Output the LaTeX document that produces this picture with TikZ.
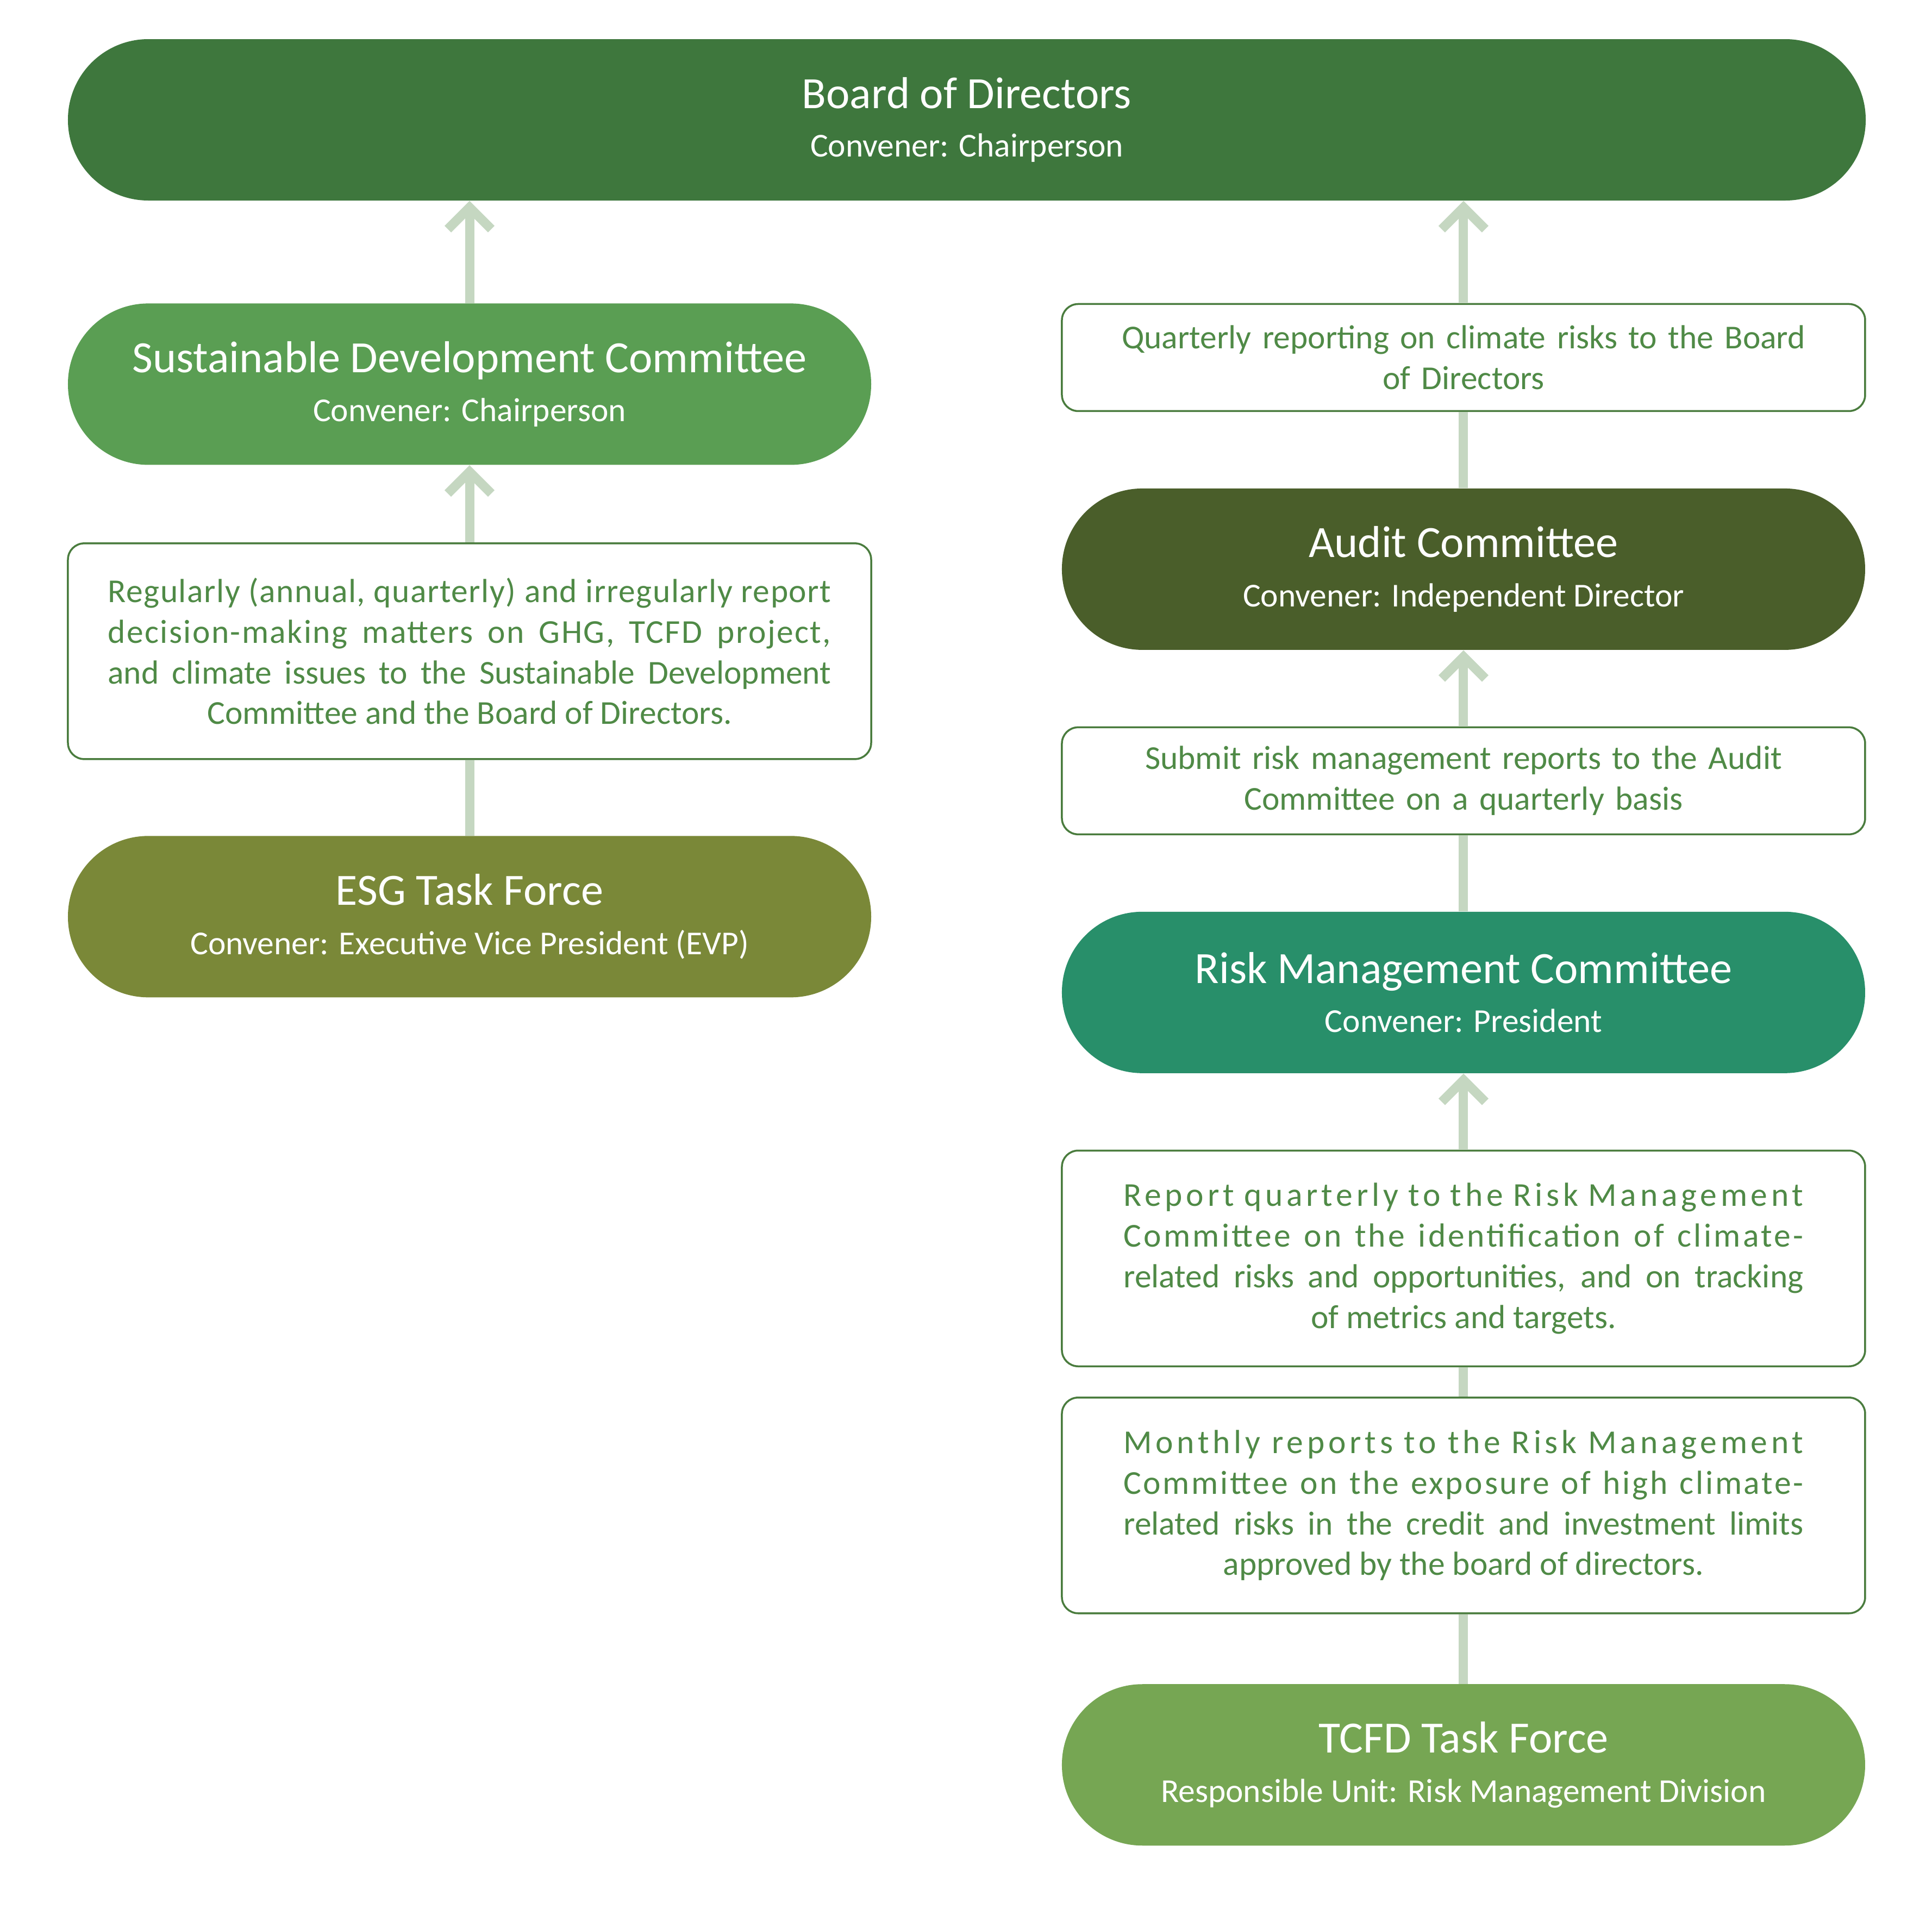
\documentclass[tikz,border=0pt]{standalone}
\usepackage{fontspec}
\setmainfont{Carlito}
\usetikzlibrary{positioning,arrows.meta}
\definecolor{boardgreen}{HTML}{3E773D}
\definecolor{sdcgreen}{HTML}{5A9E53}
\definecolor{esgolive}{HTML}{7A8838}
\definecolor{auditolive}{HTML}{4A5E2A}
\definecolor{rmcteal}{HTML}{288F6A}
\definecolor{tcfdgreen}{HTML}{76A653}
\definecolor{linkgreen}{HTML}{C5D7C1}
\definecolor{noteline}{HTML}{4A7C3E}
\definecolor{notetext}{HTML}{4F8A46}
\newcommand\headsize{\fontsize{23.4}{27}\selectfont}
\newcommand\bodysize{\fontsize{17.5}{21.3}\selectfont}
\newcommand\lastcentred{\leavevmode\leftskip=0pt plus 1fil\rightskip=0pt plus -1fil\parfillskip=0pt plus 2fil\relax}
\newcommand\tracked[2]{{\addfontfeature{LetterSpace=#1}#2}}
\begin{document}
\begin{tikzpicture}
[pill/.style={rounded corners=1.48cm,minimum height=2.97cm,minimum width=14.78cm,text=white,align=center,font=\bodysize},
note/.style={draw=noteline,line width=0.035cm,rounded corners=0.3cm,minimum width=14.78cm,inner xsep=0pt,text=notetext,font=\bodysize},
link/.style={draw=linkgreen,line width=0.17cm},
up/.style={link,-{Straight Barb[length=0.4cm,width=0.8cm,sharp]}}]
\useasboundingbox (0,0) rectangle (35.55,-35.24);
\node[pill,fill=boardgreen,minimum width=33.08cm] (board) at (17.79,-2.205) {{\headsize Board of Directors}\\[4pt]Convener: Chairperson};
\node[pill,fill=sdcgreen,below=1.88cm of board.south west,anchor=north west] (sdc) {{\headsize Sustainable Development Committee}\\[4.5pt]Convener: Chairperson};
\node[note,below=1.42cm of sdc,minimum height=3.97cm,text width=13.31cm,align=justify] (ghgnote) {\lastcentred \tracked{2.5}{Regularly (annual, quarterly) and irregularly report}\linebreak \tracked{4}{decision-making matters on GHG, TCFD project,}\linebreak and climate issues to the Sustainable Development\linebreak Committee and the Board of Directors.\par};
\node[pill,fill=esgolive,below=1.39cm of ghgnote] (esg) {{\headsize ESG Task Force}\\[4.5pt]Convener: Executive Vice President (EVP)};
\node[note,below=1.88cm of board.south east,anchor=north east,minimum height=1.97cm,text width=13.3cm,align=center] (quarter) {Quarterly reporting on climate risks to the Board\\of Directors};
\node[pill,fill=auditolive,below=1.40cm of quarter] (audit) {{\headsize Audit Committee}\\[4.5pt]Convener: Independent Director};
\node[note,below=1.40cm of audit,minimum height=1.97cm,text width=13.3cm,align=center] (submit) {Submit risk management reports to the Audit\\Committee on a quarterly basis};
\node[pill,fill=rmcteal,below=1.40cm of submit] (rmc) {{\headsize Risk Management Committee}\\[4.5pt]Convener: President};
\node[note,below=1.40cm of rmc,minimum height=3.97cm,text width=12.51cm,align=justify] (riskreport) {\lastcentred \tracked{11}{Report quarterly to the Risk Management}\linebreak \tracked{7}{Committee on the identification of climate-}\linebreak related risks and opportunities, and on tracking\linebreak of metrics and targets.\par};
\node[note,below=0.54cm of riskreport,minimum height=3.97cm,text width=12.51cm,align=justify] (monthly) {\lastcentred \tracked{11}{Monthly reports to the Risk Management}\linebreak \tracked{6}{Committee on the exposure of high climate-}\linebreak related risks in the credit and investment limits\linebreak approved by the board of directors.\par};
\node[pill,fill=tcfdgreen,below=1.28cm of monthly] (tcfd) {{\headsize TCFD Task Force}\\[4.5pt]Responsible Unit: Risk Management Division};
\draw[up] (sdc) -- (sdc |- board.south);
\draw[up] (ghgnote) -- (sdc);
\draw[link] (esg) -- (ghgnote);
\draw[up] (quarter) -- (quarter |- board.south);
\draw[link] (audit) -- (quarter);
\draw[up] (submit) -- (audit);
\draw[link] (rmc) -- (submit);
\draw[up] (riskreport) -- (rmc);
\draw[link] (monthly) -- (riskreport);
\draw[link] (tcfd) -- (monthly);
\end{tikzpicture}
\end{document}
